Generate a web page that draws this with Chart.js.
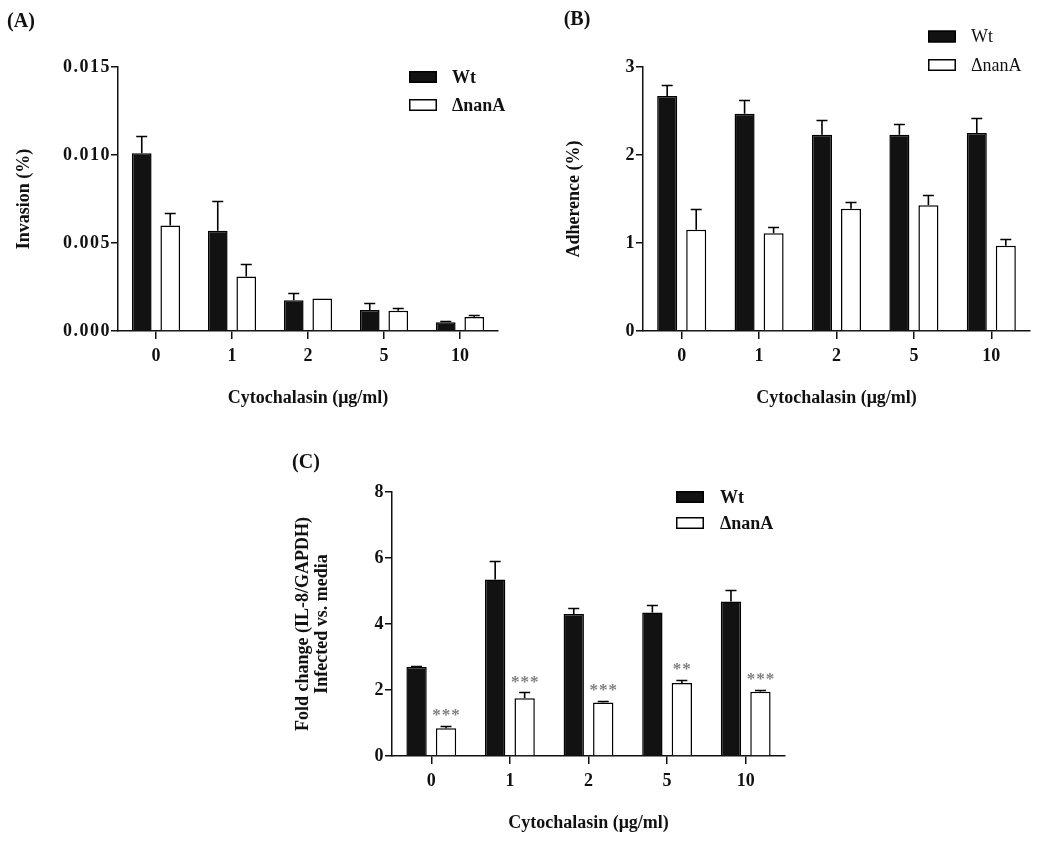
<!DOCTYPE html>
<html><head><meta charset="utf-8">
<script src="https://cdn.jsdelivr.net/npm/chart.js@4"></script>
<style>
html,body{margin:0;padding:0;background:#fff;}
body{width:1050px;height:842px;position:relative;overflow:hidden;}
canvas{position:absolute;}
</style></head><body>
<canvas id="cA" width="520" height="420" style="left:0;top:0"></canvas>
<canvas id="cB" width="530" height="420" style="left:520px;top:0"></canvas>
<canvas id="cC" width="520" height="422" style="left:280px;top:420px"></canvas>
<script>
const categories = ['0','1','2','5','10'];
const seriesNames = ['Wt','ΔnanA'];
const xTitle = 'Cytochalasin (μg/ml)';

const invasionWt     = [0.0101, 0.0057, 0.00175, 0.0012, 0.0005];
const invasionWtErr  = [0.0010, 0.0017, 0.0004, 0.0004, 0.00007];
const invasionNan    = [0.0060, 0.0031, 0.00185, 0.00115, 0.0008];
const invasionNanErr = [0.0007, 0.0007, 0, 0.00015, 0.00012];
const invasionTicks  = [0, 0.005, 0.010, 0.015];

const adherenceWt     = [2.67, 2.47, 2.23, 2.23, 2.25];
const adherenceWtErr  = [0.13, 0.16, 0.17, 0.12, 0.17];
const adherenceNan    = [1.15, 1.11, 1.39, 1.43, 0.97];
const adherenceNanErr = [0.24, 0.07, 0.08, 0.11, 0.08];
const adherenceTicks  = [0, 1, 2, 3];

const il8Wt     = [2.70, 5.35, 4.30, 4.35, 4.68];
const il8WtErr  = [0.03, 0.55, 0.17, 0.23, 0.34];
const il8Nan    = [0.84, 1.75, 1.62, 2.21, 1.95];
const il8NanErr = [0.07, 0.18, 0.05, 0.10, 0.06];
const il8Stars  = ['***', '***', '***', '**', '***'];
const il8Ticks  = [0, 2, 4, 6, 8];

const SERIF = "'Liberation Serif', 'Times New Roman', serif";
const INK = '#111';

function makePanel(id, p) {
  const canvas = document.getElementById(id);
  const W = canvas.width, H = canvas.height;
  const font = {family: SERIF, size: 18, weight: 'bold'};
  const extras = {
    id: 'extras_' + id,
    afterDatasetsDraw(chart) {
      const ctx = chart.ctx, ys = chart.scales.y;
      const vals = [p.wt, p.nan], errs = [p.wtErr, p.nanErr];
      ctx.save();
      ctx.strokeStyle = '#000';
      ctx.lineWidth = 1.6;
      for (let d = 0; d < 2; d++) {
        const meta = chart.getDatasetMeta(d);
        meta.data.forEach((bar, i) => {
          const e = errs[d][i];
          if (!(e > 0)) return;
          const yTop = Math.round(ys.getPixelForValue(vals[d][i] + e)) + 0.5;
          ctx.beginPath();
          ctx.moveTo(bar.x, bar.y);
          ctx.lineTo(bar.x, yTop);
          ctx.moveTo(bar.x - 5.5, yTop);
          ctx.lineTo(bar.x + 5.5, yTop);
          ctx.stroke();
        });
      }
      if (p.stars) {
        const meta = chart.getDatasetMeta(1);
        ctx.fillStyle = '#7f7f7f';
        ctx.font = 'bold 17px ' + SERIF;
        ctx.letterSpacing = '1px';
        ctx.textAlign = 'center';
        ctx.textBaseline = 'middle';
        meta.data.forEach((bar, i) => {
          const yTop = ys.getPixelForValue(p.nan[i] + p.nanErr[i]);
          ctx.fillText(p.stars[i], bar.x + 0.5, yTop - 10);
        });
      }
      ctx.restore();
    },
    afterDraw(chart) {
      const ctx = chart.ctx;
      ctx.save();
      ctx.fillStyle = INK;
      ctx.font = 'bold 20px ' + SERIF;
      ctx.textAlign = 'center';
      ctx.textBaseline = 'middle';
      ctx.fillText(p.letter.text, p.letter.x, p.letter.y);
      const L = p.legend;
      ctx.lineWidth = 1.5;
      ctx.strokeStyle = '#000';
      ctx.fillStyle = '#121212';
      ctx.fillRect(L.x, L.y1 - L.h / 2, L.w, L.h);
      ctx.strokeRect(L.x + 0.75, L.y1 - L.h / 2 + 0.75, L.w - 1.5, L.h - 1.5);
      ctx.fillStyle = '#fff';
      ctx.fillRect(L.x, L.y2 - L.h / 2, L.w, L.h);
      ctx.strokeRect(L.x + 0.75, L.y2 - L.h / 2 + 0.75, L.w - 1.5, L.h - 1.5);
      ctx.fillStyle = INK;
      ctx.font = (L.bold ? 'bold ' : '') + '18px ' + SERIF;
      ctx.textAlign = 'left';
      ctx.fillText(seriesNames[0], L.tx, L.y1 + 1);
      ctx.fillText(seriesNames[1], L.tx, L.y2 + 1);
      ctx.restore();
    }
  };
  return new Chart(canvas, {
    type: 'bar',
    data: {
      labels: categories,
      datasets: [
        {label: seriesNames[0], data: p.wt, backgroundColor: '#121212', borderColor: '#000', borderWidth: 1.5},
        {label: seriesNames[1], data: p.nan, backgroundColor: '#fff', borderColor: '#000', borderWidth: 1.5}
      ]
    },
    options: {
      responsive: false, animation: false, devicePixelRatio: 1,
      layout: {padding: {left: 0, top: p.area.top, right: W - p.area.right, bottom: 0}},
      plugins: {legend: {display: false}, tooltip: {enabled: false}},
      datasets: {bar: {categoryPercentage: 0.75, barPercentage: 0.69}},
      scales: {
        x: {
          type: 'category', offset: true,
          grid: {display: true, drawOnChartArea: false, drawTicks: true, tickLength: 8, offset: false, color: INK, lineWidth: 1.5},
          border: {display: true, color: INK, width: 1.5},
          ticks: {font: font, color: INK, padding: 7, maxRotation: 0, autoSkip: false},
          title: {display: true, text: xTitle, font: font, color: INK, padding: {top: 0, bottom: p.xTitlePad}},
          afterFit(s) { s.height = H - p.area.bottom; s.paddingLeft = 0; s.paddingRight = 0; }
        },
        y: {
          min: 0, max: p.ticks[p.ticks.length - 1],
          grid: {display: true, drawOnChartArea: false, drawTicks: true, tickLength: 7, color: INK, lineWidth: 1.5},
          border: {display: true, color: INK, width: 1.5},
          ticks: {font: font, color: INK, padding: 0, callback: v => p.fmt(v)},
          afterBuildTicks(s) { s.ticks = p.ticks.map(v => ({value: v})); },
          title: {display: true, text: p.yTitle, font: Object.assign({}, font, {lineHeight: p.yLineHeight || 1.2}), color: INK, padding: {top: p.yTitlePad, bottom: 0}},
          afterFit(s) {
            s.width = p.area.left; s.paddingTop = 0; s.paddingBottom = 0;
            if (!s._spaced) {
              const orig = s.drawLabels.bind(s);
              s.drawLabels = function (area) {
                this.ctx.save();
                this.ctx.letterSpacing = '1.5px';
                orig(area);
                this.ctx.restore();
              };
              s._spaced = true;
            }
          }
        }
      }
    },
    plugins: [extras]
  });
}

makePanel('cA', {
  area: {left: 118, right: 498, top: 67, bottom: 331},
  wt: invasionWt, wtErr: invasionWtErr, nan: invasionNan, nanErr: invasionNanErr,
  ticks: invasionTicks, fmt: v => v.toFixed(3),
  yTitle: 'Invasion (%)', yTitlePad: 14, xTitlePad: 11,
  letter: {text: '(A)', x: 21, y: 22},
  legend: {x: 409, w: 28, h: 12, y1: 77, y2: 105, tx: 452, bold: true}
});
makePanel('cB', {
  area: {left: 123, right: 510, top: 67, bottom: 331},
  wt: adherenceWt, wtErr: adherenceWtErr, nan: adherenceNan, nanErr: adherenceNanErr,
  ticks: adherenceTicks, fmt: v => String(v),
  yTitle: 'Adherence (%)', yTitlePad: 44, xTitlePad: 11,
  letter: {text: '(B)', x: 57, y: 20},
  legend: {x: 408, w: 28, h: 12, y1: 36.5, y2: 65, tx: 451, bold: false}
});
makePanel('cC', {
  area: {left: 112, right: 505, top: 72, bottom: 336},
  wt: il8Wt, wtErr: il8WtErr, nan: il8Nan, nanErr: il8NanErr, stars: il8Stars,
  ticks: il8Ticks, fmt: v => String(v),
  yTitle: ['Fold change (IL-8/GAPDH)', 'Infected vs. media'], yLineHeight: 1.05, yTitlePad: 13.5, xTitlePad: 8,
  letter: {text: '(C)', x: 26, y: 43},
  legend: {x: 396, w: 28, h: 12, y1: 77, y2: 103, tx: 440, bold: true}
});
</script>
</body></html>
